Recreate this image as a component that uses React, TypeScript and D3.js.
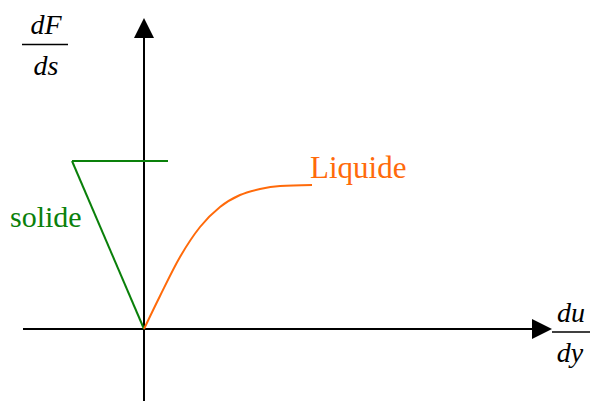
import React from "react";
import * as d3 from "d3";

// Data in abstract units (origin = 0,0)
const axisX = [-121, 408];
const axisY = [-72, 311];
const solidX = [-72, 0];
const solidY = [168, 0];
const solidTopX = [-72, 24];
const liquidX = [0, 16, 36, 56, 76, 96, 116, 136, 168];
const liquidY = [0, 33, 72, 102, 122, 134, 140, 143, 144];
const labels = ["solide", "Liquide"];

const W = 590;
const H = 401;
const SERIF = "Liberation Serif, Times New Roman, serif";

export default function App() {
  const x = d3.scaleLinear().domain([0, 100]).range([144, 244]);
  const y = d3.scaleLinear().domain([0, 100]).range([329, 229]);
  const green = "#0a800a";
  const orange = "#ff6a0a";

  const liquid = d3
    .line<number>()
    .x((_, i) => x(liquidX[i]))
    .y((d) => y(d))
    .curve(d3.curveMonotoneX)(liquidY) as string;

  const solid = d3
    .line<number>()
    .x((_, i) => x(solidX[i]))
    .y((d) => y(d))(solidY) as string;

  const ox = x(0);
  const oy = y(0);
  const xEnd = x(axisX[1]);
  const yEnd = y(axisY[1]);

  return (
    <svg
      width={W}
      height={H}
      style={{ position: "absolute", left: 0, top: 0, background: "#fff" }}
      fontFamily={SERIF}
    >
      {/* axes */}
      <line x1={x(axisX[0])} y1={oy} x2={xEnd - 18} y2={oy} stroke="#000" strokeWidth={2} />
      <line x1={ox} y1={y(axisY[0])} x2={ox} y2={yEnd + 18} stroke="#000" strokeWidth={2} />
      <path d={`M${xEnd},${oy} L${xEnd - 20},${oy - 10} L${xEnd - 20},${oy + 10} Z`} fill="#000" />
      <path d={`M${ox},${yEnd} L${ox - 10},${yEnd + 20} L${ox + 10},${yEnd + 20} Z`} fill="#000" />

      {/* solid */}
      <path d={solid} fill="none" stroke={green} strokeWidth={2} />
      <line x1={x(solidTopX[0])} y1={y(solidY[0])} x2={x(solidTopX[1])} y2={y(solidY[0])} stroke={green} strokeWidth={2} />
      <text x={10} y={227} fontSize={30} fill={green} fontFamily={SERIF}>{labels[0]}</text>

      {/* liquid */}
      <path d={liquid} fill="none" stroke={orange} strokeWidth={2} />
      <text x={310} y={178} fontSize={31} fill={orange} fontFamily={SERIF}>{labels[1]}</text>

      {/* y label dF/ds */}
      <text x={46} y={34} fontSize={28} textAnchor="middle" fontFamily={SERIF} fontStyle="italic">dF</text>
      <line x1={22} y1={44.5} x2={68} y2={44.5} stroke="#000" strokeWidth={1.5} />
      <text x={46} y={75} fontSize={28} textAnchor="middle" fontFamily={SERIF} fontStyle="italic">ds</text>

      {/* x label du/dy */}
      <text x={571} y={322} fontSize={28} textAnchor="middle" fontFamily={SERIF} fontStyle="italic">du</text>
      <line x1={552} y1={332} x2={590} y2={332} stroke="#000" strokeWidth={1.5} />
      <text x={570} y={362} fontSize={28} textAnchor="middle" fontFamily={SERIF} fontStyle="italic">dy</text>
    </svg>
  );
}
